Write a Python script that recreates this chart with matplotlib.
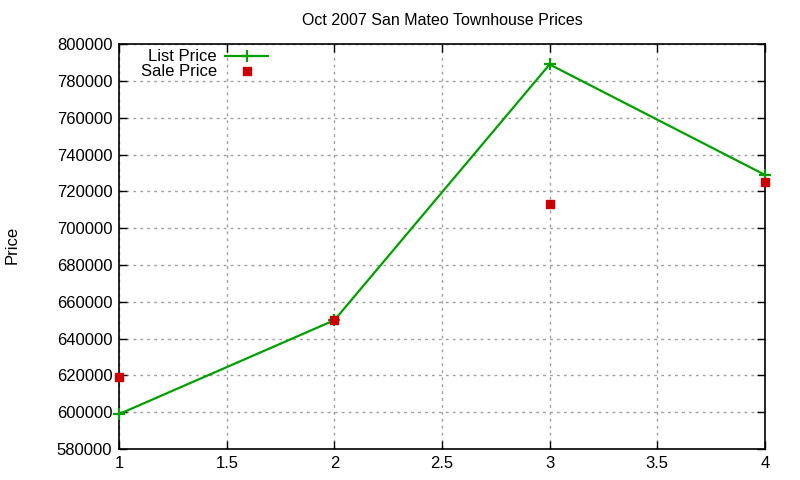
import matplotlib
matplotlib.use("Agg")
import matplotlib.pyplot as plt

plt.rcParams["font.family"] = ["Liberation Sans", "DejaVu Sans"]

# data
sale_no = [1, 2, 3, 4]
list_price = [599000, 650000, 789000, 729000]
sale_price = [619000, 650000, 713000, 725000]

GREEN = "#00a000"
RED = "#cc0000"

fig = plt.figure(figsize=(8, 4.8), dpi=100)
ax = fig.add_axes([0.149, 0.0646, 0.807, 0.8434])

ax.plot(sale_no, list_price, color=GREEN, lw=1.6, marker="+", ms=8, mew=1.6,
        label="List Price", clip_on=False, zorder=3)
ax.plot(sale_no, sale_price, ls="none", color=RED, marker="s", ms=6,
        label="Sale Price", clip_on=False, zorder=4)

ax.set_xlim(1, 4)
ax.set_ylim(580000, 800000)
ax.set_xticks([1, 1.5, 2, 2.5, 3, 3.5, 4])
ax.set_xticklabels(["1", "1.5", "2", "2.5", "3", "3.5", "4"])
ax.set_yticks(range(580000, 800001, 20000))
ax.set_yticklabels([str(v) for v in range(580000, 800001, 20000)])
ax.tick_params(direction="in", length=6, width=1, top=True, right=True,
               labelsize=12, pad=5, colors="black")
ax.grid(True, ls=(0, (2, 3)), color="#a0a0a0", lw=1)
for s in ax.spines.values():
    s.set_linewidth(1.2)

ax.set_title("Oct 2007 San Mateo Townhouse Prices", fontsize=11.5, pad=14)
fig.text(0.015, 0.49, "Price", rotation=90, fontsize=12, va="center", ha="center")

leg = ax.legend(loc="upper left", bbox_to_anchor=(0.015, 1.016), frameon=False,
                fontsize=12, markerfirst=False, handlelength=2.6,
                handletextpad=0.5, labelspacing=0.0, borderaxespad=0.3)
for t in leg.get_texts():
    t.set_ha("right")

fig.savefig("out.png", dpi=100)
